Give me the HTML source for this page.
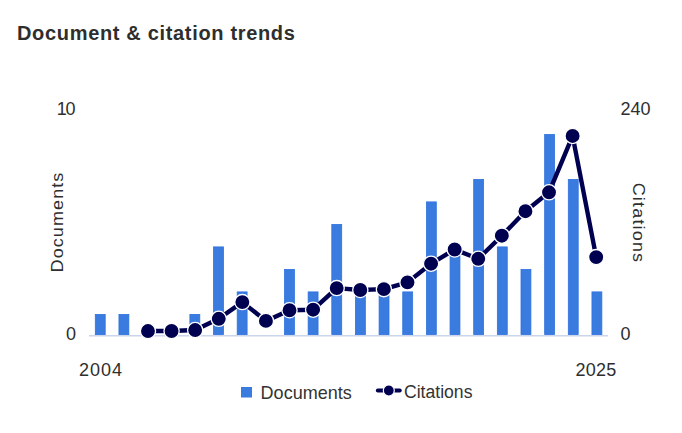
<!DOCTYPE html>
<html><head><meta charset="utf-8"><style>
html,body{margin:0;padding:0;background:#fff;width:682px;height:433px;overflow:hidden;position:relative}
.t{position:absolute;font-family:"Liberation Sans",sans-serif;color:#2e2e2e;white-space:nowrap;line-height:1}
</style></head><body>
<svg width="682" height="433" viewBox="0 0 682 433" style="position:absolute;left:0;top:0">
<rect x="95.30" y="314.40" width="9.9" height="20.20" fill="#3a7be0" stroke="#2f72de" stroke-width="0.8"/><rect x="118.95" y="314.40" width="9.9" height="20.20" fill="#3a7be0" stroke="#2f72de" stroke-width="0.8"/><rect x="189.90" y="314.40" width="9.9" height="20.20" fill="#3a7be0" stroke="#2f72de" stroke-width="0.8"/><rect x="213.55" y="246.90" width="9.9" height="87.70" fill="#3a7be0" stroke="#2f72de" stroke-width="0.8"/><rect x="237.20" y="291.90" width="9.9" height="42.70" fill="#3a7be0" stroke="#2f72de" stroke-width="0.8"/><rect x="284.50" y="269.40" width="9.9" height="65.20" fill="#3a7be0" stroke="#2f72de" stroke-width="0.8"/><rect x="308.15" y="291.90" width="9.9" height="42.70" fill="#3a7be0" stroke="#2f72de" stroke-width="0.8"/><rect x="331.80" y="224.40" width="9.9" height="110.20" fill="#3a7be0" stroke="#2f72de" stroke-width="0.8"/><rect x="355.45" y="291.90" width="9.9" height="42.70" fill="#3a7be0" stroke="#2f72de" stroke-width="0.8"/><rect x="379.10" y="291.90" width="9.9" height="42.70" fill="#3a7be0" stroke="#2f72de" stroke-width="0.8"/><rect x="402.75" y="291.90" width="9.9" height="42.70" fill="#3a7be0" stroke="#2f72de" stroke-width="0.8"/><rect x="426.40" y="201.90" width="9.9" height="132.70" fill="#3a7be0" stroke="#2f72de" stroke-width="0.8"/><rect x="450.05" y="246.90" width="9.9" height="87.70" fill="#3a7be0" stroke="#2f72de" stroke-width="0.8"/><rect x="473.70" y="179.40" width="9.9" height="155.20" fill="#3a7be0" stroke="#2f72de" stroke-width="0.8"/><rect x="497.35" y="246.90" width="9.9" height="87.70" fill="#3a7be0" stroke="#2f72de" stroke-width="0.8"/><rect x="521.00" y="269.40" width="9.9" height="65.20" fill="#3a7be0" stroke="#2f72de" stroke-width="0.8"/><rect x="544.65" y="134.40" width="9.9" height="200.20" fill="#3a7be0" stroke="#2f72de" stroke-width="0.8"/><rect x="568.30" y="179.40" width="9.9" height="155.20" fill="#3a7be0" stroke="#2f72de" stroke-width="0.8"/><rect x="591.95" y="291.90" width="9.9" height="42.70" fill="#3a7be0" stroke="#2f72de" stroke-width="0.8"/>
<rect x="89" y="335" width="519" height="1" fill="#ccd6eb"/><rect x="89" y="336" width="519" height="1" fill="#e4e9f4"/>
<polyline points="147.98,331.05 171.57,331 195.16,330.05 218.75,318.8 242.34,302.1 265.93,320.9 289.52,310.25 313.11,309.7 336.70,288.1 360.30,290 383.89,289.15 407.48,282.4 431.07,263.7 454.66,249.5 478.25,258.8 501.84,235.7 525.43,211.2 549.02,192.3 572.61,135.95 596.20,257.1" fill="none" stroke="#000050" stroke-width="4.4" stroke-linejoin="round" stroke-linecap="round"/>
<circle cx="147.98" cy="331.05" r="7.6" fill="#000050" stroke="#fff" stroke-width="1.3"/><circle cx="171.57" cy="331" r="7.6" fill="#000050" stroke="#fff" stroke-width="1.3"/><circle cx="195.16" cy="330.05" r="7.6" fill="#000050" stroke="#fff" stroke-width="1.3"/><circle cx="218.75" cy="318.8" r="7.6" fill="#000050" stroke="#fff" stroke-width="1.3"/><circle cx="242.34" cy="302.1" r="7.6" fill="#000050" stroke="#fff" stroke-width="1.3"/><circle cx="265.93" cy="320.9" r="7.6" fill="#000050" stroke="#fff" stroke-width="1.3"/><circle cx="289.52" cy="310.25" r="7.6" fill="#000050" stroke="#fff" stroke-width="1.3"/><circle cx="313.11" cy="309.7" r="7.6" fill="#000050" stroke="#fff" stroke-width="1.3"/><circle cx="336.70" cy="288.1" r="7.6" fill="#000050" stroke="#fff" stroke-width="1.3"/><circle cx="360.30" cy="290" r="7.6" fill="#000050" stroke="#fff" stroke-width="1.3"/><circle cx="383.89" cy="289.15" r="7.6" fill="#000050" stroke="#fff" stroke-width="1.3"/><circle cx="407.48" cy="282.4" r="7.6" fill="#000050" stroke="#fff" stroke-width="1.3"/><circle cx="431.07" cy="263.7" r="7.6" fill="#000050" stroke="#fff" stroke-width="1.3"/><circle cx="454.66" cy="249.5" r="7.6" fill="#000050" stroke="#fff" stroke-width="1.3"/><circle cx="478.25" cy="258.8" r="7.6" fill="#000050" stroke="#fff" stroke-width="1.3"/><circle cx="501.84" cy="235.7" r="7.6" fill="#000050" stroke="#fff" stroke-width="1.3"/><circle cx="525.43" cy="211.2" r="7.6" fill="#000050" stroke="#fff" stroke-width="1.3"/><circle cx="549.02" cy="192.3" r="7.6" fill="#000050" stroke="#fff" stroke-width="1.3"/><circle cx="572.61" cy="135.95" r="7.6" fill="#000050" stroke="#fff" stroke-width="1.3"/><circle cx="596.20" cy="257.1" r="7.6" fill="#000050" stroke="#fff" stroke-width="1.3"/>
<rect x="241" y="387" width="11" height="10.5" fill="#3a7be0"/>
<line x1="377.8" y1="390.5" x2="399.8" y2="390.5" stroke="#000050" stroke-width="3.9" stroke-linecap="round"/>
<circle cx="388.8" cy="390.5" r="5.5" fill="#000050" stroke="#fff" stroke-width="1.2"/>
</svg>
<div class="t" id="title" style="left:17px;top:22.5px;font-size:20px;font-weight:bold;letter-spacing:0.67px">Document &amp; citation trends</div>
<div class="t" id="l10" style="right:607.6px;top:100px;font-size:18px;letter-spacing:-1.2px">10</div>
<div class="t" id="l0" style="right:606px;top:325px;font-size:18px">0</div>
<div class="t" id="r240" style="left:620.5px;top:100px;font-size:18px">240</div>
<div class="t" id="r0" style="left:620.5px;top:325px;font-size:18px">0</div>
<div class="t" id="x2004" style="left:79px;top:361px;font-size:18px;letter-spacing:1px">2004</div>
<div class="t" id="x2025" style="left:575.5px;top:361px;font-size:18px;letter-spacing:0.2px">2025</div>
<div class="t" id="ytl" style="left:56.8px;top:221.6px;font-size:17px;letter-spacing:1.02px;transform:translate(-50%,-50%) rotate(-90deg) scaleX(1.06)">Documents</div>
<div class="t" id="ytr" style="left:638.4px;top:222.8px;font-size:17px;letter-spacing:1.1px;transform:translate(-50%,-50%) rotate(90deg) scaleX(1.06)">Citations</div>
<div class="t" id="lg1" style="left:260.6px;top:383.9px;font-size:18.05px;color:#333">Documents</div>
<div class="t" id="lg2" style="left:404px;top:384px;font-size:17.6px;color:#333">Citations</div>
</body></html>
